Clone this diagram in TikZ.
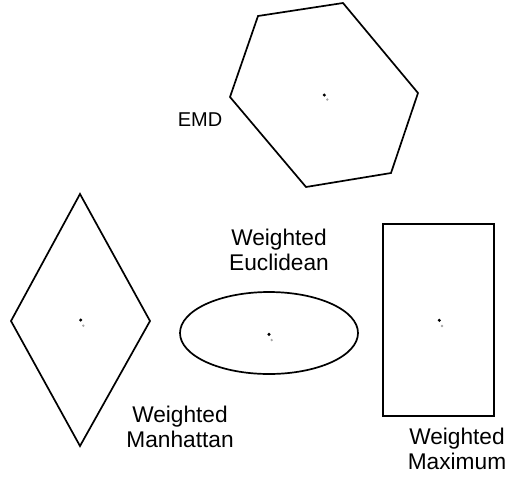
\documentclass[tikz,border=0pt]{standalone}
\usepackage{fontspec}
\setmainfont{Liberation Sans}
\usetikzlibrary{shapes.geometric}
\begin{document}
\begin{tikzpicture}[x=1pt,y=-1pt,
  shapeline/.style={draw=black,line width=1.7pt,line join=miter},
  lbl/.style={inner sep=0pt,align=center,font=\fontsize{22.7}{25}\selectfont},
  cdot/.style={fill=black,draw=none},
  gdot/.style={fill=gray!70,draw=none}]
\useasboundingbox (0,0) rectangle (511,483);
% hexagon
\draw[shapeline] (258,16) -- (343,3) -- (418,93) -- (391,173) -- (306,187) -- (230,97) -- cycle;
\fill[cdot] (324.3,95) circle (1.7);
\fill[gdot] (327.3,99.5) circle (1.3);
\node[lbl,font=\fontsize{20}{23}\selectfont] (emd) at (200,119.5) {EMD};
% diamond
\draw[shapeline] (80,194) -- (150,321) -- (80,446) -- (11,321) -- cycle;
\fill[cdot] (80.7,320) circle (1.7);
\fill[gdot] (83.3,325.7) circle (1.3);
\node[lbl] (manh) at (180,426.7) {Weighted\\Manhattan};
% ellipse
\node[shapeline,ellipse,minimum width=178pt,minimum height=82pt,inner sep=0pt] (ell) at (269,333) {};
\fill[cdot] (269,334.3) circle (1.7);
\fill[gdot] (271.7,340) circle (1.3);
\node[lbl] (eucl) at (279,250) {Weighted\\Euclidean};
% rectangle
\node[shapeline,rectangle,minimum width=111pt,minimum height=192pt,inner sep=0pt] (rect) at (438.5,320) {};
\fill[cdot] (439.3,320.3) circle (1.7);
\fill[gdot] (442,326) circle (1.3);
\node[lbl] (maxi) at (457,449) {Weighted\\Maximum};
\end{tikzpicture}
\end{document}
